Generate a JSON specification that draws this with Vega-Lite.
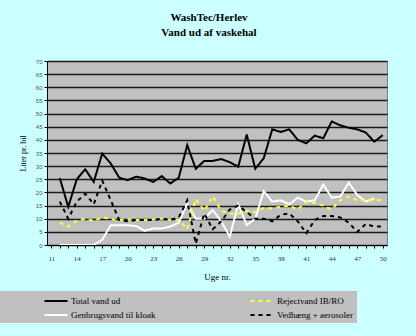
{
  "$schema": "https://vega.github.io/schema/vega-lite/v6.json",
  "width": 340,
  "height": 184,
  "autosize": {"type": "none"},
  "padding": {"left": 47, "top": 61, "right": 29, "bottom": 91},
  "background": "#ccffff",
  "title": {"text": ["WashTec/Herlev", "Vand ud af vaskehal"], "font": "Liberation Serif", "fontSize": 11, "fontWeight": "bold", "color": "black", "anchor": "middle", "dx": -8, "offset": 20, "lineHeight": 15},
  "config": {
    "view": {"fill": "#c0c0c0", "stroke": "#808080", "strokeWidth": 1},
    "legend": {"orient": "none", "legendX": -47, "legendY": 230, "columns": 2, "symbolType": "M-2,0H2", "symbolSize": 132, "fillColor": "#c0c0c0", "padding": 3, "labelFont": "Liberation Serif", "labelFontSize": 9, "labelColor": "black", "columnPadding": 90, "rowPadding": 2, "titleOrient": "left", "titlePadding": 46, "titleFontSize": 9, "labelOffset": 8}
  },
  "data": {"values": [
    {"week": 12, "series": "Total vand ud", "value": 25.5},
    {"week": 13, "series": "Total vand ud", "value": 14.5},
    {"week": 14, "series": "Total vand ud", "value": 25},
    {"week": 15, "series": "Total vand ud", "value": 28.8},
    {"week": 16, "series": "Total vand ud", "value": 24},
    {"week": 17, "series": "Total vand ud", "value": 34.8},
    {"week": 18, "series": "Total vand ud", "value": 31},
    {"week": 19, "series": "Total vand ud", "value": 25.6},
    {"week": 20, "series": "Total vand ud", "value": 24.7},
    {"week": 21, "series": "Total vand ud", "value": 26},
    {"week": 22, "series": "Total vand ud", "value": 25.3},
    {"week": 23, "series": "Total vand ud", "value": 24},
    {"week": 24, "series": "Total vand ud", "value": 26.2},
    {"week": 25, "series": "Total vand ud", "value": 23.4},
    {"week": 26, "series": "Total vand ud", "value": 25.6},
    {"week": 27, "series": "Total vand ud", "value": 38},
    {"week": 28, "series": "Total vand ud", "value": 29},
    {"week": 29, "series": "Total vand ud", "value": 32},
    {"week": 30, "series": "Total vand ud", "value": 32},
    {"week": 31, "series": "Total vand ud", "value": 32.7},
    {"week": 32, "series": "Total vand ud", "value": 31.5},
    {"week": 33, "series": "Total vand ud", "value": 29.8},
    {"week": 34, "series": "Total vand ud", "value": 42},
    {"week": 35, "series": "Total vand ud", "value": 29},
    {"week": 36, "series": "Total vand ud", "value": 33},
    {"week": 37, "series": "Total vand ud", "value": 44},
    {"week": 38, "series": "Total vand ud", "value": 43},
    {"week": 39, "series": "Total vand ud", "value": 44},
    {"week": 40, "series": "Total vand ud", "value": 40},
    {"week": 41, "series": "Total vand ud", "value": 38.7},
    {"week": 42, "series": "Total vand ud", "value": 41.6},
    {"week": 43, "series": "Total vand ud", "value": 40.6},
    {"week": 44, "series": "Total vand ud", "value": 47},
    {"week": 45, "series": "Total vand ud", "value": 45.5},
    {"week": 46, "series": "Total vand ud", "value": 44.6},
    {"week": 47, "series": "Total vand ud", "value": 44},
    {"week": 48, "series": "Total vand ud", "value": 42.8},
    {"week": 49, "series": "Total vand ud", "value": 39.3},
    {"week": 50, "series": "Total vand ud", "value": 41.8},

    {"week": 12, "series": "Genbrugsvand til kloak", "value": 0},
    {"week": 13, "series": "Genbrugsvand til kloak", "value": 0},
    {"week": 14, "series": "Genbrugsvand til kloak", "value": 0},
    {"week": 15, "series": "Genbrugsvand til kloak", "value": 0},
    {"week": 16, "series": "Genbrugsvand til kloak", "value": 0},
    {"week": 17, "series": "Genbrugsvand til kloak", "value": 2},
    {"week": 18, "series": "Genbrugsvand til kloak", "value": 7.5},
    {"week": 19, "series": "Genbrugsvand til kloak", "value": 7.5},
    {"week": 20, "series": "Genbrugsvand til kloak", "value": 7.5},
    {"week": 21, "series": "Genbrugsvand til kloak", "value": 7.2},
    {"week": 22, "series": "Genbrugsvand til kloak", "value": 5.4},
    {"week": 23, "series": "Genbrugsvand til kloak", "value": 6.3},
    {"week": 24, "series": "Genbrugsvand til kloak", "value": 6.3},
    {"week": 25, "series": "Genbrugsvand til kloak", "value": 7},
    {"week": 26, "series": "Genbrugsvand til kloak", "value": 8.5},
    {"week": 27, "series": "Genbrugsvand til kloak", "value": 15.8},
    {"week": 28, "series": "Genbrugsvand til kloak", "value": 10},
    {"week": 29, "series": "Genbrugsvand til kloak", "value": 10},
    {"week": 30, "series": "Genbrugsvand til kloak", "value": 13.3},
    {"week": 31, "series": "Genbrugsvand til kloak", "value": 9},
    {"week": 32, "series": "Genbrugsvand til kloak", "value": 3.2},
    {"week": 33, "series": "Genbrugsvand til kloak", "value": 15.5},
    {"week": 34, "series": "Genbrugsvand til kloak", "value": 7.6},
    {"week": 35, "series": "Genbrugsvand til kloak", "value": 10},
    {"week": 36, "series": "Genbrugsvand til kloak", "value": 20.5},
    {"week": 37, "series": "Genbrugsvand til kloak", "value": 16.5},
    {"week": 38, "series": "Genbrugsvand til kloak", "value": 17},
    {"week": 39, "series": "Genbrugsvand til kloak", "value": 15.5},
    {"week": 40, "series": "Genbrugsvand til kloak", "value": 18},
    {"week": 41, "series": "Genbrugsvand til kloak", "value": 16.5},
    {"week": 42, "series": "Genbrugsvand til kloak", "value": 17},
    {"week": 43, "series": "Genbrugsvand til kloak", "value": 23},
    {"week": 44, "series": "Genbrugsvand til kloak", "value": 18},
    {"week": 45, "series": "Genbrugsvand til kloak", "value": 18.4},
    {"week": 46, "series": "Genbrugsvand til kloak", "value": 23.7},
    {"week": 47, "series": "Genbrugsvand til kloak", "value": 19},
    {"week": 48, "series": "Genbrugsvand til kloak", "value": 16.5},
    {"week": 49, "series": "Genbrugsvand til kloak", "value": 17.7},

    {"week": 12, "series": "Rejectvand IB/RO", "value": 8.5},
    {"week": 13, "series": "Rejectvand IB/RO", "value": 7},
    {"week": 14, "series": "Rejectvand IB/RO", "value": 9.2},
    {"week": 15, "series": "Rejectvand IB/RO", "value": 10},
    {"week": 16, "series": "Rejectvand IB/RO", "value": 9.2},
    {"week": 17, "series": "Rejectvand IB/RO", "value": 10.5},
    {"week": 18, "series": "Rejectvand IB/RO", "value": 9.8},
    {"week": 19, "series": "Rejectvand IB/RO", "value": 9.5},
    {"week": 20, "series": "Rejectvand IB/RO", "value": 9.8},
    {"week": 21, "series": "Rejectvand IB/RO", "value": 9.5},
    {"week": 22, "series": "Rejectvand IB/RO", "value": 9.5},
    {"week": 23, "series": "Rejectvand IB/RO", "value": 9.8},
    {"week": 24, "series": "Rejectvand IB/RO", "value": 10},
    {"week": 25, "series": "Rejectvand IB/RO", "value": 9.5},
    {"week": 26, "series": "Rejectvand IB/RO", "value": 9.5},
    {"week": 27, "series": "Rejectvand IB/RO", "value": 6},
    {"week": 28, "series": "Rejectvand IB/RO", "value": 17.5},
    {"week": 29, "series": "Rejectvand IB/RO", "value": 13},
    {"week": 30, "series": "Rejectvand IB/RO", "value": 18.5},
    {"week": 31, "series": "Rejectvand IB/RO", "value": 13},
    {"week": 32, "series": "Rejectvand IB/RO", "value": 12},
    {"week": 33, "series": "Rejectvand IB/RO", "value": 12},
    {"week": 34, "series": "Rejectvand IB/RO", "value": 13},
    {"week": 35, "series": "Rejectvand IB/RO", "value": 12.5},
    {"week": 36, "series": "Rejectvand IB/RO", "value": 14},
    {"week": 37, "series": "Rejectvand IB/RO", "value": 14},
    {"week": 38, "series": "Rejectvand IB/RO", "value": 14.5},
    {"week": 39, "series": "Rejectvand IB/RO", "value": 15},
    {"week": 40, "series": "Rejectvand IB/RO", "value": 13.5},
    {"week": 41, "series": "Rejectvand IB/RO", "value": 16.5},
    {"week": 42, "series": "Rejectvand IB/RO", "value": 16},
    {"week": 43, "series": "Rejectvand IB/RO", "value": 15},
    {"week": 44, "series": "Rejectvand IB/RO", "value": 13.5},
    {"week": 45, "series": "Rejectvand IB/RO", "value": 17},
    {"week": 46, "series": "Rejectvand IB/RO", "value": 18.5},
    {"week": 47, "series": "Rejectvand IB/RO", "value": 17},
    {"week": 48, "series": "Rejectvand IB/RO", "value": 17},
    {"week": 49, "series": "Rejectvand IB/RO", "value": 17},
    {"week": 50, "series": "Rejectvand IB/RO", "value": 17},

    {"week": 12, "series": "Vedhæng + aerosoler", "value": 16.5},
    {"week": 13, "series": "Vedhæng + aerosoler", "value": 10},
    {"week": 14, "series": "Vedhæng + aerosoler", "value": 16.5},
    {"week": 15, "series": "Vedhæng + aerosoler", "value": 19.5},
    {"week": 16, "series": "Vedhæng + aerosoler", "value": 15.5},
    {"week": 17, "series": "Vedhæng + aerosoler", "value": 24.5},
    {"week": 18, "series": "Vedhæng + aerosoler", "value": 17},
    {"week": 19, "series": "Vedhæng + aerosoler", "value": 9.5},
    {"week": 20, "series": "Vedhæng + aerosoler", "value": 9},
    {"week": 21, "series": "Vedhæng + aerosoler", "value": 9.5},
    {"week": 22, "series": "Vedhæng + aerosoler", "value": 9.5},
    {"week": 23, "series": "Vedhæng + aerosoler", "value": 9.5},
    {"week": 24, "series": "Vedhæng + aerosoler", "value": 10},
    {"week": 25, "series": "Vedhæng + aerosoler", "value": 9.5},
    {"week": 26, "series": "Vedhæng + aerosoler", "value": 10.5},
    {"week": 27, "series": "Vedhæng + aerosoler", "value": 17},
    {"week": 28, "series": "Vedhæng + aerosoler", "value": 0.5},
    {"week": 29, "series": "Vedhæng + aerosoler", "value": 12},
    {"week": 30, "series": "Vedhæng + aerosoler", "value": 6},
    {"week": 31, "series": "Vedhæng + aerosoler", "value": 9},
    {"week": 32, "series": "Vedhæng + aerosoler", "value": 13.5},
    {"week": 33, "series": "Vedhæng + aerosoler", "value": 15},
    {"week": 34, "series": "Vedhæng + aerosoler", "value": 12.5},
    {"week": 35, "series": "Vedhæng + aerosoler", "value": 10},
    {"week": 36, "series": "Vedhæng + aerosoler", "value": 10},
    {"week": 37, "series": "Vedhæng + aerosoler", "value": 9},
    {"week": 38, "series": "Vedhæng + aerosoler", "value": 11.5},
    {"week": 39, "series": "Vedhæng + aerosoler", "value": 12},
    {"week": 40, "series": "Vedhæng + aerosoler", "value": 9},
    {"week": 41, "series": "Vedhæng + aerosoler", "value": 4.5},
    {"week": 42, "series": "Vedhæng + aerosoler", "value": 9.5},
    {"week": 43, "series": "Vedhæng + aerosoler", "value": 11},
    {"week": 44, "series": "Vedhæng + aerosoler", "value": 11},
    {"week": 45, "series": "Vedhæng + aerosoler", "value": 10.5},
    {"week": 46, "series": "Vedhæng + aerosoler", "value": 8.5},
    {"week": 47, "series": "Vedhæng + aerosoler", "value": 5},
    {"week": 48, "series": "Vedhæng + aerosoler", "value": 8},
    {"week": 49, "series": "Vedhæng + aerosoler", "value": 7},
    {"week": 50, "series": "Vedhæng + aerosoler", "value": 7}
  ]},
  "mark": {"type": "line", "clip": true},
  "encoding": {
    "x": {"field": "week", "type": "quantitative", "scale": {"domain": [10.5, 50.5], "nice": false},
      "axis": {"title": "Uge nr.", "titleFont": "Liberation Serif", "titleFontSize": 9, "titleFontWeight": "normal", "titleColor": "black", "titlePadding": 11,
        "values": [11,12,13,14,15,16,17,18,19,20,21,22,23,24,25,26,27,28,29,30,31,32,33,34,35,36,37,38,39,40,41,42,43,44,45,46,47,48,49,50],
        "labelExpr": "(datum.value - 11) % 3 == 0 ? datum.label : ''",
        "labelFont": "Liberation Serif", "labelFontSize": 7, "labelColor": "#333", "labelPadding": 6,
        "grid": false, "domainColor": "black", "tickColor": "black", "tickSize": 3}},
    "y": {"field": "value", "type": "quantitative", "scale": {"domain": [0, 70], "nice": false},
      "axis": {"title": "Liter pr. bil", "titleFont": "Liberation Serif", "titleFontSize": 8, "titleFontWeight": "normal", "titleColor": "black", "titlePadding": 8,
        "values": [0,5,10,15,20,25,30,35,40,45,50,55,60,65,70],
        "labelFont": "Liberation Sans", "labelFontSize": 6, "labelColor": "#555", "labelPadding": 2,
        "grid": true, "gridColor": "#1a1a1a", "gridWidth": 1.5, "domainColor": "black", "tickColor": "black", "tickSize": 3}},
    "color": {"field": "series", "type": "nominal",
      "scale": {"domain": ["Total vand ud", "Genbrugsvand til kloak", "Rejectvand IB/RO", "Vedhæng + aerosoler"], "range": ["#000000", "#ffffff", "#ffff33", "#000000"]},
      "legend": {"title": "\u00a0"}},
    "strokeDash": {"field": "series", "type": "nominal",
      "scale": {"domain": ["Total vand ud", "Genbrugsvand til kloak", "Rejectvand IB/RO", "Vedhæng + aerosoler"], "range": [[1, 0], [1, 0], [4, 4], [4, 4]]},
      "legend": {"title": "\u00a0"}},
    "strokeWidth": {"field": "series", "type": "nominal",
      "scale": {"domain": ["Total vand ud", "Genbrugsvand til kloak", "Rejectvand IB/RO", "Vedhæng + aerosoler"], "range": [2, 2, 3, 3]},
      "legend": {"title": "\u00a0"}}
  }
}
